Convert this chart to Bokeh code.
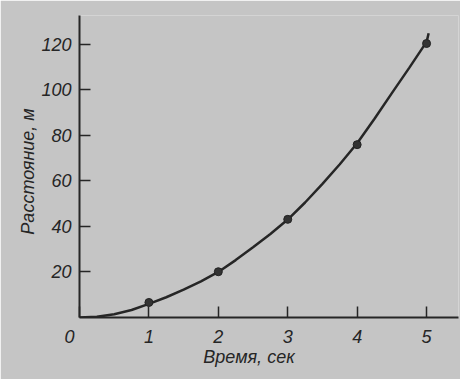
from bokeh.plotting import figure
from bokeh.models import FixedTicker
from bokeh.embed import file_html
from bokeh.resources import INLINE

# measured points (time in s, distance in m)
t_meas = [1, 2, 3, 4, 5]
d_meas = [6.6, 20.1, 43.1, 75.9, 120.3]

# smooth curve
curve_t = [0, 0.25, 0.5, 0.75, 1.0, 1.25, 1.5, 1.75, 2.0, 2.25, 2.5, 2.75,
           3.0, 3.25, 3.5, 3.75, 4.0, 4.25, 4.5, 4.75, 5.0, 5.03]
curve_d = [0, 0.35, 1.4, 3.3, 6.0, 8.9, 12.2, 15.9, 20.0, 25.2, 30.8, 36.7,
           43.0, 50.5, 58.7, 67.3, 76.5, 87.3, 98.5, 109.6, 121.0, 124.8]

x_ticks = [0, 1, 2, 3, 4, 5]
y_ticks = [20, 40, 60, 80, 100, 120]
x_title = "Время, сек"
y_title = "Расстояние, м"
origin_label = "0"

NB = "\u00a0"
BG = "#c5c5c5"
INK = "#262626"
FONT = "Liberation Sans"

p = figure(width=460, height=379, output_backend="svg", toolbar_location=None,
           x_range=(0, 5.46), y_range=(0, 132.6),
           min_border_left=79, min_border_right=2, min_border_top=15,
           min_border_bottom=62)
p.background_fill_color = BG
p.border_fill_color = BG
p.outline_line_color = None
p.grid.visible = False

for ax in (p.xaxis[0], p.yaxis[0]):
    ax.axis_line_color = INK
    ax.axis_line_width = 2
    ax.major_tick_line_color = INK
    ax.major_tick_line_width = 1.5
    ax.major_tick_in = 11
    ax.major_tick_out = 0
    ax.minor_tick_line_color = None
    ax.major_label_text_font = FONT
    ax.major_label_text_font_style = "italic"
    ax.major_label_text_font_size = "18px"
    ax.major_label_text_color = INK
    ax.axis_label_text_font = FONT
    ax.axis_label_text_font_style = "italic"
    ax.axis_label_text_font_size = "18px"
    ax.axis_label_text_color = INK

p.xaxis[0].ticker = FixedTicker(ticks=x_ticks)
p.xaxis[0].major_label_overrides = {0: origin_label + NB * 4}
p.yaxis[0].ticker = FixedTicker(ticks=y_ticks)
p.xaxis[0].major_label_standoff = 9
p.yaxis[0].major_label_standoff = 8
p.xaxis[0].axis_label = x_title + NB * 8
p.yaxis[0].axis_label = y_title + NB * 2
p.xaxis[0].axis_label_standoff = -3
p.yaxis[0].axis_label_standoff = 0

p.line(curve_t, curve_d, line_color=INK, line_width=2.5)
p.scatter(t_meas, d_meas, size=8, fill_color="#333333", line_color="#222222")

open("out.html", "w").write(file_html(p, INLINE))
